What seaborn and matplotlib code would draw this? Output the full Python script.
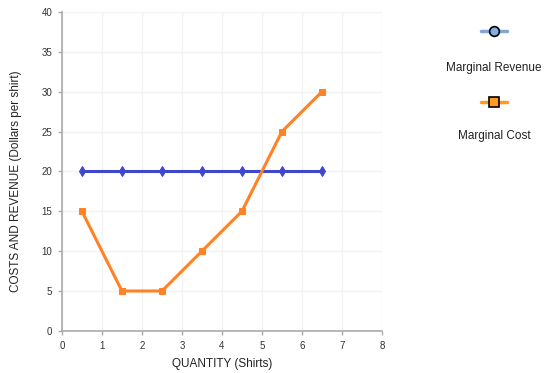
import numpy as np
import pandas as pd
import matplotlib
matplotlib.use("Agg")
import matplotlib.pyplot as plt
import seaborn as sns
from matplotlib.lines import Line2D

quantity = [0.5, 1.5, 2.5, 3.5, 4.5, 5.5, 6.5]
marginal_revenue = [20, 20, 20, 20, 20, 20, 20]
marginal_cost = [15, 5, 5, 10, 15, 25, 30]

sns.set_style("white")
plt.rcParams['font.family'] = ['Liberation Sans', 'DejaVu Sans']

df = pd.DataFrame({
    'Quantity': quantity * 2,
    'Value': marginal_revenue + marginal_cost,
    'Series': ['Marginal Revenue'] * len(quantity) + ['Marginal Cost'] * len(quantity),
})

fig = plt.figure(figsize=(5.48, 3.73), dpi=100)
ax = fig.add_axes([0.113, 0.113, 0.584, 0.855])

blue = '#3f48cc'
orange = '#ff8224'
sns.lineplot(data=df[df.Series == 'Marginal Revenue'], x='Quantity', y='Value', ax=ax,
             color=blue, linewidth=2.2, marker='d', markersize=5,
             markeredgecolor=blue, legend=False)
sns.lineplot(data=df[df.Series == 'Marginal Cost'], x='Quantity', y='Value', ax=ax,
             color=orange, linewidth=2.2, marker='s', markersize=5,
             markeredgecolor=orange, legend=False)

ax.set_xlim(0, 8)
ax.set_ylim(0, 40)
ax.set_xticks(range(0, 9))
ax.set_yticks(range(0, 41, 5))
ax.grid(True, color='#f3f3f3', linewidth=1)
ax.set_axisbelow(True)
for s in ['top', 'right']:
    ax.spines[s].set_visible(False)
for s in ['left', 'bottom']:
    ax.spines[s].set_color('#aaaaaa')
    ax.spines[s].set_linewidth(1.2)
ax.tick_params(axis='both', direction='out', length=3, width=1, color='#aaaaaa',
               labelsize=7, labelcolor='#333333', pad=4)
ax.tick_params(axis='both', which='both', bottom=True, left=True)
ax.set_xlabel('QUANTITY (Shirts)', fontsize=8.5, color='#222222', labelpad=5)
ax.set_ylabel('COSTS AND REVENUE (Dollars per shirt)', fontsize=8.5, color='#222222')
ax.yaxis.set_label_coords(-0.125, 0.47)

# legend outside on the right
fig.add_artist(Line2D([0.878, 0.925], [0.917, 0.917], transform=fig.transFigure,
                      color='#7fa7d8', linewidth=2.5))
fig.add_artist(Line2D([0.9015], [0.917], transform=fig.transFigure, marker='o',
                      markersize=7, markerfacecolor='#82aee0', markeredgecolor='black',
                      markeredgewidth=1.2))
fig.text(0.9015, 0.818, 'Marginal Revenue', ha='center', va='center', fontsize=8.5, color='#222222')
fig.add_artist(Line2D([0.878, 0.925], [0.727, 0.727], transform=fig.transFigure,
                      color='#ff9a1e', linewidth=2.5))
fig.add_artist(Line2D([0.9015], [0.727], transform=fig.transFigure, marker='s',
                      markersize=7, markerfacecolor='#ff9a1e', markeredgecolor='black',
                      markeredgewidth=1.2))
fig.text(0.9015, 0.635, 'Marginal Cost', ha='center', va='center', fontsize=8.5, color='#222222')

fig.savefig('out.png', dpi=100)
